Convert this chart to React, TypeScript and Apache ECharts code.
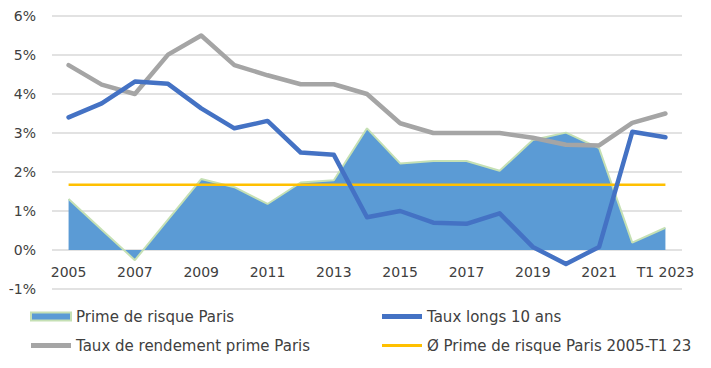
import React, { useEffect, useRef } from "react";
import * as echarts from "echarts";

const categories = [
  "2005", "2006", "2007", "2008", "2009", "2010", "2011", "2012", "2013", "2014",
  "2015", "2016", "2017", "2018", "2019", "2020", "2021", "2022", "T1 2023",
];

const primeRisque = [
  1.31, 0.52, -0.26, 0.78, 1.82, 1.61, 1.18, 1.73, 1.79, 3.12,
  2.22, 2.28, 2.28, 2.03, 2.82, 3.01, 2.61, 0.19, 0.57,
];

const tauxLongs = [
  3.40, 3.76, 4.32, 4.26, 3.63, 3.12, 3.31, 2.50, 2.44, 0.84,
  1.00, 0.70, 0.67, 0.94, 0.08, -0.36, 0.08, 3.03, 2.89,
];

const tauxRendement = [
  4.74, 4.24, 4.0, 5.01, 5.5, 4.74, 4.48, 4.25, 4.25, 4.0,
  3.25, 3.0, 3.0, 3.0, 2.88, 2.7, 2.68, 3.26, 3.5,
];

const moyennePrime = [
  1.67, 1.67, 1.67, 1.67, 1.67, 1.67, 1.67, 1.67, 1.67, 1.67,
  1.67, 1.67, 1.67, 1.67, 1.67, 1.67, 1.67, 1.67, 1.67,
];

const yTicks = { min: -1, max: 6, interval: 1 };

const names = {
  prime: "Prime de risque Paris",
  longs: "Taux longs 10 ans",
  rend: "Taux de rendement prime Paris",
  moy: "Ø Prime de risque Paris 2005-T1 23",
};

const colors = {
  areaFill: "#5B9BD5",
  areaLine: "#C5E0B4",
  longs: "#4472C4",
  rend: "#A5A5A5",
  moy: "#FFC000",
  grid: "#D9D9D9",
  text: "#404040",
};

const FONT = "DejaVu Sans";

export default function App() {
  const ref = useRef<HTMLDivElement>(null);

  useEffect(() => {
    if (!ref.current) return;
    const chart = echarts.init(ref.current, null, { renderer: "svg" });

    const legendCommon = {
      orient: "vertical" as const,
      top: 309,
      padding: 0,
      itemWidth: 40,
      itemHeight: 14,
      itemGap: 14,
      textStyle: { fontFamily: FONT, fontSize: 15, color: colors.text },
      selectedMode: false,
    };

    chart.setOption({
      animation: false,
      textStyle: { fontFamily: FONT },
      grid: { left: 52, right: 29, top: 16, bottom: 79, containLabel: false },
      legend: [
        {
          ...legendCommon,
          left: 30,
          data: [
            {
              name: names.prime,
              icon: "path://M0,0h40v8h-40z",
              itemStyle: { color: colors.areaFill, borderColor: colors.areaLine, borderWidth: 2 },
            },
            {
              name: names.rend,
              icon: "path://M0,0h40v5h-40z",
              itemStyle: { color: colors.rend, borderWidth: 0 },
            },
          ],
        },
        {
          ...legendCommon,
          left: 382,
          data: [
            {
              name: names.longs,
              icon: "path://M0,0h40v5h-40z",
              itemStyle: { color: colors.longs, borderWidth: 0 },
            },
            {
              name: names.moy,
              icon: "path://M0,0h40v3h-40z",
              itemStyle: { color: colors.moy, borderWidth: 0 },
            },
          ],
        },
      ],
      xAxis: {
        type: "category",
        data: categories,
        boundaryGap: true,
        axisLine: { show: false, onZero: false },
        axisTick: { show: false },
        axisLabel: {
          interval: 1,
          margin: -24,
          fontFamily: FONT,
          fontSize: 14,
          color: colors.text,
        },
        splitLine: { show: false },
      },
      yAxis: {
        type: "value",
        min: yTicks.min,
        max: yTicks.max,
        interval: yTicks.interval,
        axisLine: { show: false },
        axisTick: { show: false },
        axisLabel: {
          formatter: "{value}%",
          margin: 16,
          fontFamily: FONT,
          fontSize: 14,
          color: colors.text,
        },
        splitLine: { lineStyle: { color: colors.grid, width: 1.5 } },
      },
      series: [
        {
          name: names.prime,
          type: "line",
          data: primeRisque,
          symbol: "none",
          lineStyle: { color: colors.areaLine, width: 2 },
          itemStyle: { color: colors.areaFill },
          areaStyle: { color: colors.areaFill, opacity: 1 },
          z: 1,
        },
        {
          name: names.moy,
          type: "line",
          data: moyennePrime,
          symbol: "none",
          lineStyle: { color: colors.moy, width: 2.5 },
          itemStyle: { color: colors.moy },
          z: 2,
        },
        {
          name: names.rend,
          type: "line",
          data: tauxRendement,
          symbol: "none",
          lineStyle: { color: colors.rend, width: 4.5, cap: "round", join: "round" },
          itemStyle: { color: colors.rend },
          z: 3,
        },
        {
          name: names.longs,
          type: "line",
          data: tauxLongs,
          symbol: "none",
          lineStyle: { color: colors.longs, width: 4.5, cap: "round", join: "round" },
          itemStyle: { color: colors.longs },
          z: 4,
        },
      ],
    });

    return () => chart.dispose();
  }, []);

  return (
    <div
      ref={ref}
      style={{ position: "absolute", left: 0, top: 0, width: 711, height: 368, background: "#fff" }}
    />
  );
}
